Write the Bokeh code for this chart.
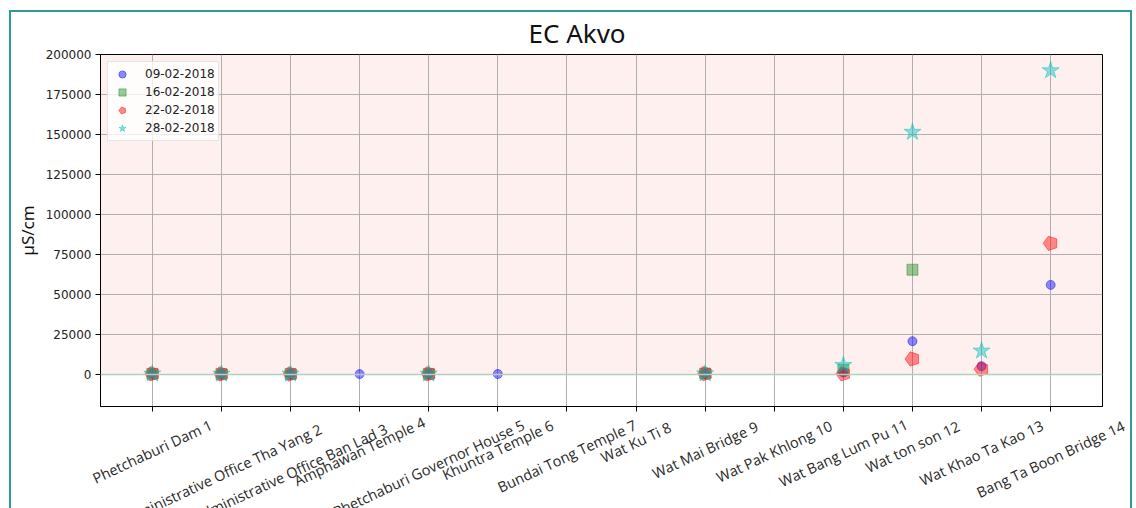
import math
from bokeh.plotting import figure
from bokeh.models import (ColumnDataSource, FixedTicker, BasicTickFormatter, BoxAnnotation,
                          Span, LabelSet, Legend, LegendItem)
from bokeh.embed import file_html
from bokeh.resources import INLINE
from bokeh.core.properties import value

nan = float("nan")

sites = ["Phetchaburi Dam 1", "Administrative Office Tha Yang 2",
         "Administrative Office Ban Lad 3", "Amphawan Temple 4",
         "Phetchaburi Governor House 5", "Khuntra Temple 6",
         "Bundai Tong Temple 7", "Wat Ku Ti 8", "Wat Mai Bridge 9",
         "Wat Pak Khlong 10", "Wat Bang Lum Pu 11", "Wat ton son 12",
         "Wat Khao Ta Kao 13", "Bang Ta Boon Bridge 14"]
dates = ["09-02-2018", "16-02-2018", "22-02-2018", "28-02-2018"]

ec_09 = [400, 300, 300, 250, 350, 300, nan, nan, 500, nan, 1200, 20800, 5200, 56000]
ec_16 = [450, 350, 350, nan, 400, nan, nan, nan, 600, nan, 3000, 65500, nan, nan]
ec_22 = [400, 300, 300, nan, 350, nan, nan, nan, 500, nan, 400, 9700, 3300, 82000]
ec_28 = [450, 350, 350, nan, 400, nan, nan, nan, 550, nan, 5800, 151500, 14800, 190000]

y_ticks = [0, 25000, 50000, 75000, 100000, 125000, 150000, 175000, 200000]

x_pos = list(range(1, len(sites) + 1))
X_MIN, X_MAX = 0.25, 14.75
Y_MIN, Y_MAX = -20000, 200000
TEAL = "2px solid #2f9a9a"

# layout constants (pixels)
CANVAS_W = 1123
LEFT, RIGHT, TOP, BOTTOM = 89, 32, 42, 12
FRAME_W = CANVAS_W - LEFT - RIGHT
FRAME_H = 350
LAB_H = 92

p = figure(width=CANVAS_W, height=TOP + FRAME_H + BOTTOM + 2,
           output_backend="svg", toolbar_location=None,
           x_range=(X_MIN, X_MAX), y_range=(Y_MIN, Y_MAX),
           min_border_left=LEFT, min_border_right=RIGHT, min_border_top=TOP,
           min_border_bottom=BOTTOM,
           background_fill_color="white", border_fill_color="white",
           styles={"margin-left": "9px", "margin-top": "10px",
                   "border-top": TEAL, "border-left": TEAL, "border-right": TEAL})

p.title.text = "EC Akvo"
p.title.align = "left"
p.title.offset = 428
p.title.standoff = 4
p.title.vertical_align = "top"
p.title.text_font = "Noto Sans"
p.title.text_font_size = "26px"
p.title.text_font_style = "normal"
p.title.text_color = "#111111"

p.outline_line_color = "black"
p.outline_line_alpha = 1.0
p.outline_line_width = 1

band = BoxAnnotation(bottom=0, top=Y_MAX, fill_color="#ff0000", fill_alpha=0.06,
                     line_color=None, level="image")
p.add_layout(band)

p.xgrid.ticker = FixedTicker(ticks=x_pos)
p.ygrid.ticker = FixedTicker(ticks=y_ticks)
for g in (p.xgrid[0], p.ygrid[0]):
    g.grid_line_color = "#b0b0b0"
    g.grid_line_width = 1

p.add_layout(Span(location=0, dimension="width", line_color="#b4cfc0", line_width=1.5))

p.yaxis.ticker = FixedTicker(ticks=y_ticks)
p.yaxis.formatter = BasicTickFormatter(use_scientific=False)
p.yaxis.major_label_text_font = "DejaVu Sans"
p.yaxis.major_label_text_font_size = "12px"
p.yaxis.major_label_text_color = "#222222"
p.yaxis.major_label_standoff = 4
p.yaxis.axis_label = "µS/cm"
p.yaxis.axis_label_text_font = "Noto Sans"
p.yaxis.axis_label_text_font_size = "17px"
p.yaxis.axis_label_text_font_style = "normal"
p.yaxis.axis_label_text_color = "#111111"
p.yaxis.axis_label_standoff = 4

p.xaxis.ticker = FixedTicker(ticks=x_pos)
p.xaxis.major_label_overrides = {i: "" for i in x_pos}
p.xaxis.major_label_standoff = 0
p.xaxis.major_label_text_font_size = "1px"
for ax in (p.xaxis[0], p.yaxis[0]):
    ax.major_tick_out = 5
    ax.major_tick_in = 0
    ax.minor_tick_out = 0
    ax.minor_tick_in = 0
    ax.axis_line_color = "black"
    ax.major_tick_line_color = "black"

r1 = p.scatter(x_pos, ec_09, marker="circle", size=9,
               fill_color="blue", fill_alpha=0.45, line_color="blue", line_alpha=0.45)
r2 = p.scatter(x_pos, ec_16, marker="square", size=11,
               fill_color="green", fill_alpha=0.4, line_color="green", line_alpha=0.4)
try:
    r3 = p.ngon(x_pos, ec_22, radius=7.5, radius_units="screen", n=5,
                angle=math.pi / 2,
                fill_color="red", fill_alpha=0.45, line_color="red", line_alpha=0.45)
except Exception:
    r3 = p.scatter(x_pos, ec_22, marker="hex", size=13,
                   fill_color="red", fill_alpha=0.45, line_color="red", line_alpha=0.45)
r4 = p.scatter(x_pos, ec_28, marker="star", size=18,
               fill_color="#00bfbf", fill_alpha=0.45, line_color="#00bfbf", line_alpha=0.45)

legend = Legend(items=[LegendItem(label=d, renderers=[r]) for d, r in zip(dates, [r1, r2, r3, r4])],
                location="top_left")
legend.label_text_font = "DejaVu Sans"
legend.label_text_font_size = "12px"
legend.label_text_color = "#222222"
legend.glyph_height = 18
legend.glyph_width = 22
legend.spacing = 0
legend.padding = 3
legend.margin = 7
legend.label_standoff = 12
legend.border_line_color = "#cccccc"
legend.background_fill_alpha = 0.8
p.add_layout(legend)

# ---- strip below the plot holding the rotated category labels ----
px_unit = (X_MAX - X_MIN) / FRAME_W
lx0 = X_MIN - LEFT * px_unit
lx1 = X_MAX + RIGHT * px_unit
p2 = figure(width=CANVAS_W, height=LAB_H, output_backend="svg", toolbar_location=None,
            x_range=(lx0, lx1), y_range=(-LAB_H, 0),
            min_border_left=0, min_border_right=0, min_border_top=0, min_border_bottom=0,
            x_axis_location=None, y_axis_location=None,
            background_fill_color="white", border_fill_color="white",
            outline_line_color=None,
            styles={"margin-left": "9px", "border-left": TEAL, "border-right": TEAL})
p2.xgrid.visible = False
p2.ygrid.visible = False

theta = math.radians(25)
fs = 14.5
lab_y = []
for s in sites:
    w = len(s) * 0.5 * fs
    H = w * math.sin(theta) + 1.2 * fs * math.cos(theta)
    lab_y.append(-(13 - BOTTOM + H / 2))

lab_src = ColumnDataSource(data=dict(x=x_pos, y=lab_y, text=sites))
p2.add_layout(LabelSet(x="x", y="y", text="text", source=lab_src, angle=25,
                       angle_units="deg", text_align="center", text_baseline="middle",
                       text_font=value("Open Sans"), text_font_size="14.5px",
                       text_color="#2a2a2a"))

open("out.html", "w").write(file_html([p, p2], INLINE))
